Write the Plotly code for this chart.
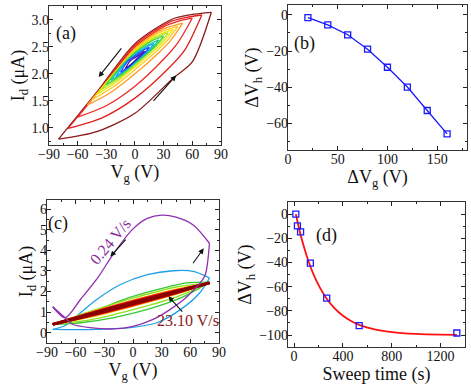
import plotly.graph_objects as go

FONT = 'Liberation Serif'

# ---- (a) transfer loops for different gate sweep ranges ----
loopRange = [80, 70, 60, 50, 45, 40, 35, 30, 25, 20, 15, 10]
loopColor = ['#8b1a1a', '#e0201c', '#ee2a24', '#ff9a1e', '#ffc81e', '#e6e600',
             '#a8e61e', '#3cd23c', '#14c8a0', '#14a8f0', '#1e50ff', '#3c14b4']
# branch points at Vg = A * frac
loopFrac = [-1, -0.5, 0, 0.5, 0.75, 1]
loopUp = [
    [0.79, 1.66, 2.56, 3.02, 3.10, 3.14],
    [0.99, 1.75, 2.53, 2.95, 3.04, 3.09],
    [1.20, 1.85, 2.50, 2.87, 2.97, 3.03],
    [1.42, 1.95, 2.47, 2.79, 2.88, 2.94],
    [1.52, 2.00, 2.45, 2.74, 2.82, 2.88],
    [1.62, 2.05, 2.43, 2.68, 2.76, 2.82],
    [1.71, 2.09, 2.41, 2.63, 2.71, 2.76],
    [1.80, 2.13, 2.39, 2.58, 2.65, 2.70],
    [1.88, 2.17, 2.37, 2.52, 2.58, 2.63],
    [1.95, 2.20, 2.35, 2.47, 2.52, 2.56],
    [2.03, 2.23, 2.33, 2.42, 2.46, 2.49],
    [2.10, 2.24, 2.30, 2.36, 2.39, 2.42],
]
loopDown = [
    [0.79, 0.93, 1.27, 1.92, 2.22, 3.14],
    [0.99, 1.18, 1.55, 2.10, 2.45, 3.09],
    [1.20, 1.41, 1.77, 2.27, 2.58, 3.03],
    [1.42, 1.66, 2.00, 2.39, 2.62, 2.94],
    [1.52, 1.76, 2.08, 2.42, 2.62, 2.88],
    [1.62, 1.84, 2.13, 2.43, 2.60, 2.82],
    [1.71, 1.91, 2.16, 2.43, 2.58, 2.76],
    [1.80, 1.97, 2.19, 2.41, 2.54, 2.70],
    [1.88, 2.03, 2.21, 2.40, 2.50, 2.63],
    [1.95, 2.07, 2.22, 2.37, 2.45, 2.56],
    [2.03, 2.12, 2.24, 2.35, 2.41, 2.49],
    [2.10, 2.16, 2.24, 2.33, 2.37, 2.42],
]

# ---- (b) hysteresis width vs sweep range ----
dVg = [20, 40, 60, 80, 100, 120, 140, 160]
dVhB = [-1.5, -5.5, -11, -19, -29, -40, -53, -66]

# ---- (c) loops at different sweep rates ----
purpleFwdV = [-84, -71, -64, -45, -20, 0, 21, 39, 57, 75, 78, 80]
purpleFwdI = [1.26, 0.72, 0.42, 0.24, 0.18, 0.30, 0.64, 1.13, 1.77, 2.74, 3.4, 4.35]
purpleBwdV = [80, 63, 45, 30, 15, 0, -20, -37, -55, -71, -84]
purpleBwdI = [4.35, 5.24, 5.62, 5.72, 5.56, 5.05, 3.87, 2.66, 1.61, 0.72, 1.26]

cyanFwdV = [-84, -60, -38, -3, 25, 50, 70, 80]
cyanFwdI = [0.16, 0.15, 0.16, 0.24, 0.48, 1.13, 1.94, 2.66]
cyanBwdV = [80, 63, 42, 15, -13, -38, -59, -72, -84]
cyanBwdI = [2.66, 2.98, 3.01, 2.82, 2.34, 1.61, 0.80, 0.32, 0.16]

greenFwdV = [-84, -55, -20, 15, 50, 70, 80]
greenFwdI = [0.40, 0.48, 0.73, 1.13, 1.69, 2.18, 2.46]
greenBwdV = [80, 56, 25, -10, -45, -73, -84]
greenBwdI = [2.46, 2.42, 2.09, 1.61, 0.97, 0.56, 0.40]

# thinner loops share the same grid
innerV = [-84, -45, 0, 45, 80]
innerColor = ['#8ee01e', '#f0e000', '#ff2a1a', '#c00000', '#8b0000']
innerWidth = [1.3, 1.3, 2.0, 2.5, 3.0]
innerUp = [
    [0.40, 1.03, 1.68, 2.22, 2.42],
    [0.40, 0.98, 1.58, 2.12, 2.42],
    [0.40, 0.96, 1.55, 2.07, 2.42],
    [0.40, 0.93, 1.50, 2.03, 2.42],
    [0.40, 0.90, 1.46, 2.00, 2.42],
]
innerDown = [
    [0.40, 0.62, 1.12, 1.73, 2.42],
    [0.40, 0.74, 1.28, 1.86, 2.42],
    [0.40, 0.79, 1.32, 1.90, 2.42],
    [0.40, 0.83, 1.37, 1.94, 2.42],
    [0.40, 0.86, 1.41, 1.96, 2.42],
]

# ---- (d) hysteresis width vs sweep time ----
sweepT = [14, 27, 53, 133, 267, 533, 1333]
dVhD = [0, -9.7, -14.7, -40.6, -69.4, -92.2, -98.3]
fitT = [14, 30, 50, 75, 100, 133, 170, 210, 267, 330, 400, 470, 533, 650, 800, 1000, 1200, 1333]
fitV = [0, -7.3, -15.8, -25.2, -33.6, -43.3, -52.4, -60.6, -70, -77.8, -84.1, -88.6, -91.6,
        -95.2, -97.6, -99.1, -99.7, -99.8]


def axisStyle(rng, dtick, minorDtick, domain, anchor, title, standoff, fmt=None):
    """Boxed axis with inward ticks on every side."""
    ax = dict(range=rng, dtick=dtick, tick0=0, domain=domain, anchor=anchor, automargin=False,
              ticks='inside', ticklen=4, tickwidth=1, tickcolor='#222', ticklabelstandoff=-4,
              mirror='allticks', showline=True, linecolor='#333', linewidth=1.3,
              showgrid=False, zeroline=False,
              tickfont=dict(family=FONT, size=14, color='#111'),
              title=dict(text=title, font=dict(family=FONT, size=18, color='#111'),
                         standoff=standoff),
              minor=dict(dtick=minorDtick, ticks='inside', ticklen=2,
                         tickcolor='#222', showgrid=False))
    if fmt:
        ax['tickformat'] = fmt
    return ax


def addLine(fig, x, y, color, width, xa, ya, shape='spline'):
    fig.add_trace(go.Scatter(x=x, y=y, mode='lines', line=dict(color=color, width=width, shape=shape,
                                                                smoothing=0.8),
                             xaxis=xa, yaxis=ya, showlegend=False, hoverinfo='skip'))


def arrow(x, y, ax, ay, xa, ya, color='#111'):
    return dict(x=x, y=y, ax=ax, ay=ay, xref=xa, yref=ya, axref=xa, ayref=ya, text='',
                showarrow=True, arrowhead=2, arrowsize=1, arrowwidth=1.1, arrowcolor=color)


def label(text, x, y, xa, ya, size=18, color='#111', angle=0):
    return dict(x=x, y=y, xref=xa, yref=ya, text=text, showarrow=False, textangle=angle,
                font=dict(family=FONT, size=size, color=color))


def main():
    fig = go.Figure()

    # (a)
    for A, col, up, down in zip(loopRange, loopColor, loopUp, loopDown):
        v = [A * f for f in loopFrac]
        addLine(fig, v, down, col, 1.3, 'x', 'y')
        addLine(fig, v, up, col, 1.3, 'x', 'y')

    # (b)
    fig.add_trace(go.Scatter(x=dVg, y=dVhB, mode='lines+markers',
                             line=dict(color='#1a1aff', width=1.3),
                             marker=dict(symbol='square-open', size=6, color='#1a1aff',
                                         line=dict(width=1.3)),
                             xaxis='x2', yaxis='y2', showlegend=False))

    # (c)
    addLine(fig, cyanFwdV, cyanFwdI, '#1ea0e6', 1.3, 'x3', 'y3')
    addLine(fig, cyanBwdV, cyanBwdI, '#1ea0e6', 1.3, 'x3', 'y3')
    addLine(fig, greenFwdV, greenFwdI, '#34c834', 1.3, 'x3', 'y3')
    addLine(fig, greenBwdV, greenBwdI, '#34c834', 1.3, 'x3', 'y3')
    for col, w, up, down in zip(innerColor, innerWidth, innerUp, innerDown):
        addLine(fig, innerV, down, col, w, 'x3', 'y3')
        addLine(fig, innerV, up, col, w, 'x3', 'y3')
    addLine(fig, purpleFwdV, purpleFwdI, '#9030b0', 1.3, 'x3', 'y3')
    addLine(fig, purpleBwdV, purpleBwdI, '#9030b0', 1.3, 'x3', 'y3')

    # (d)
    addLine(fig, fitT, fitV, '#ff1010', 1.8, 'x4', 'y4')
    fig.add_trace(go.Scatter(x=sweepT, y=dVhD, mode='markers',
                             marker=dict(symbol='square-open', size=6, color='#1a1aff',
                                         line=dict(width=1.3)),
                             xaxis='x4', yaxis='y4', showlegend=False))

    annotations = [
        label('(a)', -72, 2.75, 'x', 'y'),
        arrow(-38, 1.94, -13, 2.5, 'x', 'y'),
        arrow(43, 1.97, 18, 1.47, 'x', 'y'),
        label('(b)', 17, -16, 'x2', 'y2'),
        label('(c)', -79, 5.3, 'x3', 'y3'),
        label('0.24 V/s', -24, 4.45, 'x3', 'y3', size=16, color='#8a2a9a', angle=-50),
        arrow(-23.7, 3.7, -6.3, 4.6, 'x3', 'y3'),
        arrow(74, 4.1, 61.7, 3.3, 'x3', 'y3'),
        arrow(37, 1.77, 53, 0.95, 'x3', 'y3'),
        label('23.10 V/s', 58, 0.6, 'x3', 'y3', size=16, color='#8b1a1a'),
        label('(d)', 264, -17.5, 'x4', 'y4'),
    ]

    fig.update_layout(
        width=471, height=387, margin=dict(l=0, r=0, t=0, b=0),
        paper_bgcolor='white', plot_bgcolor='white', showlegend=False,
        font=dict(family=FONT, color='#111'),
        xaxis=axisStyle([-90, 90], 30, 15, [0.104, 0.469], 'y', 'V<sub>g</sub> (V)', 1),
        yaxis=axisStyle([0.68, 3.26], 0.5, 0.25, [0.625, 0.985], 'x', 'I<sub>d</sub> (μA)', 2, '.1f'),
        xaxis2=axisStyle([0, 180], 50, 25, [0.6115, 0.9915], 'y2', 'ΔV<sub>g</sub> (V)', 1),
        yaxis2=axisStyle([-75, 5.5], 20, 10, [0.612, 0.987], 'x2', 'ΔV<sub>h</sub> (V)', 2),
        xaxis3=axisStyle([-90, 90], 30, 15, [0.0998, 0.465], 'y3', 'V<sub>g</sub> (V)', 1),
        yaxis3=axisStyle([-0.5, 6.45], 1, 0.5, [0.114, 0.483], 'x3', 'I<sub>d</sub> (μA)', 2),
        xaxis4=axisStyle([-50, 1400], 400, 200, [0.6115, 0.9873], 'y4', 'Sweep time (s)', 1),
        yaxis4=axisStyle([-110, 10], 20, 10, [0.103, 0.478], 'x4', 'ΔV<sub>h</sub> (V)', 2),
        annotations=annotations,
    )

    # drop the default page margin so the figure sits at the window corner
    fig.write_html('out.html', config={'displayModeBar': False},
                   post_script="document.body.style.margin='0';")


if __name__ == '__main__':
    main()
